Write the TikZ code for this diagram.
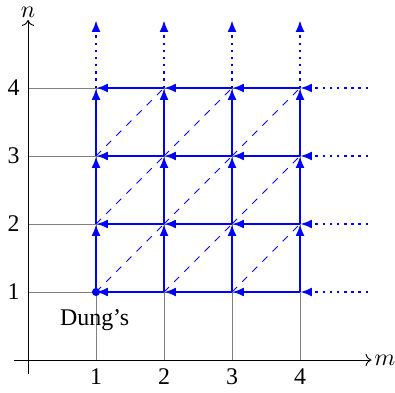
\documentclass[tikz,border=0pt]{standalone}
\usepackage{fontspec}
\setmainfont{Liberation Serif}
\usetikzlibrary{arrows.meta}

\begin{document}
\begin{tikzpicture}[
    gridline/.style={draw=gray, thin},
    axis/.style={->, thin, draw=black},
    flow/.style={-{Latex[length=5pt,width=3.8pt]}, line width=1pt, draw=blue},
    flowdot/.style={-{Latex[length=5pt,width=3.8pt]}, line width=1pt, dotted, draw=blue},
    diag/.style={thin, dashed, draw=blue}
]
\useasboundingbox (-0.412,-0.471) rectangle (5.397,5.294);

% lattice points
\foreach \i in {0,...,5}
  \foreach \j in {0,...,5}
    \coordinate (p-\i-\j) at (\i,\j);

% gray helper lines
\foreach \k in {1,...,4} {
  \draw[gridline] (p-0-\k) -- (p-4-\k);
  \draw[gridline] (p-\k-0) -- (p-\k-4);
}

% axes
\coordinate (xstart) at (-0.2,0);
\coordinate (xend) at (5.05,0);
\coordinate (ystart) at (0,-0.2);
\coordinate (yend) at (0,5.0);
\draw[axis] (xstart) -- (xend) node[right, inner sep=1pt] (mlabel) {$m$};
\draw[axis] (ystart) -- (yend) node[above, inner sep=1pt] (nlabel) {$n$};

% tick labels
\foreach \k in {1,...,4} {
  \node[below] (xt-\k) at (p-\k-0) {\k};
  \node[left] (yt-\k) at (p-0-\k) {\k};
}

% dashed diagonals
\foreach \i [count=\ii from 2] in {1,2,3}
  \foreach \j [count=\jj from 2] in {1,2,3}
    \draw[diag] (p-\i-\j) -- (p-\ii-\jj);

% upward moves
\foreach \i in {1,...,4}
  \foreach \j [count=\jj from 2] in {1,2,3}
    \draw[flow] (p-\i-\j) -- (p-\i-\jj);

% leftward moves
\foreach \j in {1,...,4}
  \foreach \i [count=\ii from 2] in {1,2,3}
    \draw[flow] (p-\ii-\j) -- (p-\i-\j);

% open ends
\foreach \k in {1,...,4} {
  \draw[flowdot] (p-\k-4) -- (p-\k-5);
  \draw[flowdot] (p-5-\k) -- (p-4-\k);
}

% start point
\fill[blue] (p-1-1) circle (1.7pt);
\node (dungs) at (0.98,0.58) {Dung's};

\end{tikzpicture}
\end{document}
